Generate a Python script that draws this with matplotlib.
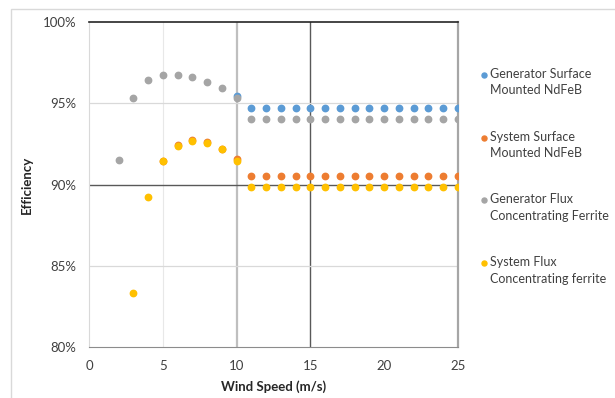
import numpy as np
import matplotlib.pyplot as plt
from matplotlib.patches import Rectangle

plt.rcParams['font.family'] = ['Lato', 'DejaVu Sans']

# wind speed (m/s)
speed_gen_sm = np.arange(10, 26)
speed_sys_sm = np.arange(5, 26)
speed_gen_fc = np.arange(2, 26)
speed_sys_fc = np.arange(3, 26)

gen_sm = [95.45] + [94.73] * 15
sys_sm = [91.45, 92.4, 92.75, 92.6, 92.2, 91.55] + [90.54] * 15
gen_fc = [91.5, 95.32, 96.43, 96.76, 96.76, 96.6, 96.31, 95.94, 95.32] + [94.03] * 15
sys_fc = [83.3, 89.2, 91.47, 92.39, 92.68, 92.57, 92.18, 91.43] + [89.87] * 15

labels = ['Generator Surface\nMounted NdFeB',
          'System Surface\nMounted NdFeB',
          'Generator Flux\nConcentrating Ferrite',
          'System Flux\nConcentrating ferrite']
colors = ['#5B9BD5', '#ED7D31', '#A5A5A5', '#FFC000']

xticks = [0, 5, 10, 15, 20, 25]
yticks = [80, 85, 90, 95, 100]

fig = plt.figure(figsize=(6.15, 3.98), dpi=100)
fig.patches.append(Rectangle((11 / 615, -0.1), 1.2, 1.1 - 9 / 398,
                             transform=fig.transFigure, fill=False,
                             edgecolor='#d9d9d9', lw=1))
ax = fig.add_axes([89 / 615, 51 / 398, 369 / 615, 325 / 398])

series = [(speed_gen_sm, gen_sm), (speed_sys_sm, sys_sm),
          (speed_gen_fc, gen_fc), (speed_sys_fc, sys_fc)]
for (x, y), c in zip(series, colors):
    ax.plot(x, y, 'o', color=c, ms=4.6, mec=c, zorder=3)

ax.set_xlim(0, 25)
ax.set_ylim(80, 100)
ax.set_xticks(xticks)
ax.set_yticks(yticks)
ax.set_yticklabels([f'{v}%' for v in yticks])
ax.tick_params(length=0, labelsize=9.5, colors='#404040', pad=9)

ax.grid(True, zorder=0)
xgrid = {0: None, 5: ('#e8e8e8', 0.8), 10: ('#bfbfbf', 1.6), 15: ('#595959', 1.0),
         20: None, 25: None}
ygrid = {80: None, 85: ('#d9d9d9', 0.9), 90: ('#595959', 1.0), 95: ('#d9d9d9', 0.9),
         100: None}
for t, gl in zip(xticks, ax.xaxis.get_gridlines()):
    if xgrid[t] is None:
        gl.set_visible(False)
    else:
        gl.set_color(xgrid[t][0])
        gl.set_linewidth(xgrid[t][1])
for t, gl in zip(yticks, ax.yaxis.get_gridlines()):
    if ygrid[t] is None:
        gl.set_visible(False)
    else:
        gl.set_color(ygrid[t][0])
        gl.set_linewidth(ygrid[t][1])

ax.spines['top'].set_color('#262626')
ax.spines['top'].set_linewidth(1.2)
ax.spines['left'].set_color('#d9d9d9')
ax.spines['bottom'].set_color('#8c8c8c')
ax.spines['right'].set_color('#a6a6a6')
ax.spines['right'].set_linewidth(1.6)

ax.set_xlabel('Wind Speed (m/s)', fontsize=9.5, fontweight='bold', color='#262626', labelpad=6)
ax.set_ylabel('Efficiency', fontsize=9.5, fontweight='bold', color='#262626')
ax.yaxis.set_label_coords(-56 / 369, 0.5)

# legend drawn by hand so markers sit on the first text line
lax = fig.add_axes([0, 0, 1, 1], facecolor='none')
lax.set_xlim(0, 615)
lax.set_ylim(398, 0)
lax.axis('off')
for i, (lab, c) in enumerate(zip(labels, colors)):
    ym = 75 + i * 62.7
    lax.plot([484], [ym], 'o', color=c, ms=3.6, mec=c)
    lax.text(490, ym - 7, lab, fontsize=9, color='#404040', va='top', ha='left',
             linespacing=1.45)

fig.savefig('out.png', dpi=100)
